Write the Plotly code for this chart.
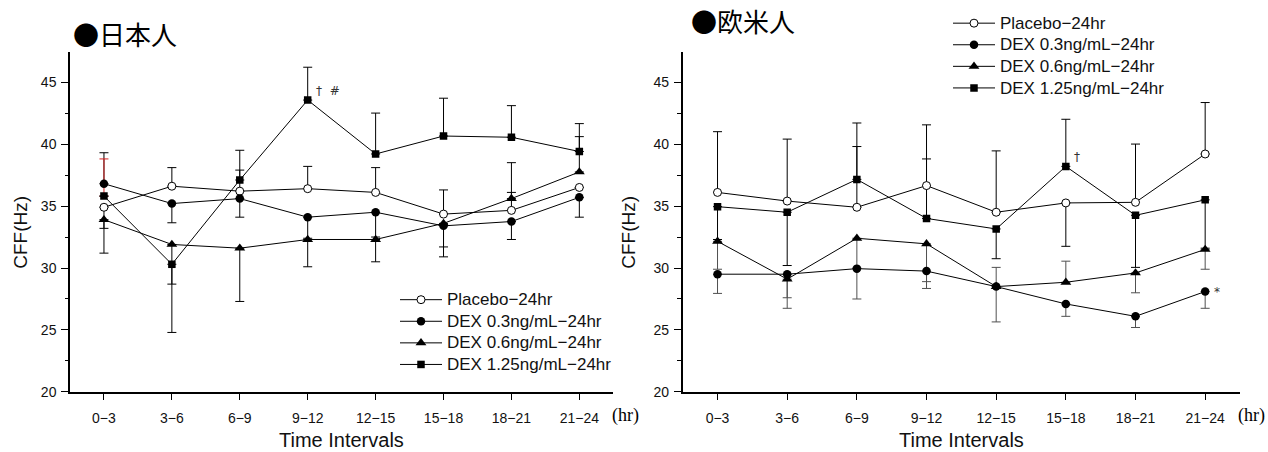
import plotly.graph_objects as go

# Time intervals (hours after dosing)
cats = ["0−3", "3−6", "6−9", "9−12", "12−15", "15−18", "18−21", "21−24"]

series_names = ["Placebo−24hr", "DEX 0.3ng/mL−24hr", "DEX 0.6ng/mL−24hr", "DEX 1.25ng/mL−24hr"]

# --- Japanese subjects: mean CFF (Hz) and one-sided SD bars
jp_placebo = [34.9, 36.6, 36.2, 36.4, 36.1, 34.35, 34.65, 36.5]
jp_placebo_up = [0, 1.5, 1.7, 1.8, 2.0, 1.95, 1.45, 0]
jp_placebo_dn = [1.7, 0, 0, 0, 0, 0, 0, 0]

jp_dex03 = [36.8, 35.2, 35.6, 34.1, 34.5, 33.4, 33.75, 35.7]
jp_dex03_up = [2.5, 0, 0, 0, 0, 0, 0, 0]
jp_dex03_dn = [0, 1.55, 1.5, 1.7, 2.0, 1.7, 1.45, 1.6]

jp_dex06 = [33.9, 31.9, 31.6, 32.3, 32.3, 33.6, 35.6, 37.75]
jp_dex06_up = [0, 0, 0, 0, 0, 0, 2.9, 2.85]
jp_dex06_dn = [2.7, 3.2, 4.3, 2.2, 1.8, 2.7, 0, 0]

jp_dex125 = [35.8, 30.3, 37.1, 43.55, 39.2, 40.65, 40.55, 39.4]
jp_dex125_up = [3.0, 0, 2.4, 2.65, 3.3, 3.05, 2.55, 2.25]
jp_dex125_dn = [0, 5.5, 0, 0, 0, 0, 0, 0]

# --- Western subjects
eu_placebo = [36.1, 35.4, 34.9, 36.65, 34.5, 35.25, 35.3, 39.2]
eu_placebo_up = [4.9, 5.0, 4.9, 4.9, 4.95, 0, 4.7, 4.15]
eu_placebo_dn = [0, 0, 0, 0, 0, 3.5, 0, 0]

eu_dex03 = [29.5, 29.5, 29.95, 29.75, 28.5, 27.1, 26.1, 28.1]
eu_dex03_up = [0, 0, 0, 0, 0, 0, 0, 0]
eu_dex03_dn = [1.55, 1.9, 2.45, 1.4, 2.85, 1.0, 0.9, 1.35]

eu_dex06 = [32.15, 29.1, 32.4, 31.95, 28.5, 28.85, 29.6, 31.5]
eu_dex06_up = [0, 0, 0, 0, 1.55, 1.7, 0, 0]
eu_dex06_dn = [2.25, 2.35, 2.4, 3.05, 0, 0, 1.6, 1.6]

eu_dex125 = [34.95, 34.5, 37.15, 34.0, 33.15, 38.2, 34.25, 35.5]
eu_dex125_up = [0, 0, 4.55, 4.8, 0, 3.8, 0, 0]
eu_dex125_dn = [2.65, 4.3, 0, 0, 2.4, 0, 4.2, 3.9]

W, H = 1268, 452
FONT = "Liberation Sans"

markers = [
    dict(symbol="circle", size=8, color="white", line=dict(color="black", width=1)),
    dict(symbol="circle", size=8.5, color="black", line=dict(color="black", width=0)),
    dict(symbol="triangle-up", size=9.5, color="black", line=dict(color="black", width=0)),
    dict(symbol="square", size=7.5, color="black", line=dict(color="black", width=0)),
]

fig = go.Figure()


def err_trace(xa, ya, xs, ys, up, dn, color):
    return go.Scatter(
        x=xs, y=ys, xaxis=xa, yaxis=ya, mode="markers",
        marker=dict(size=1, opacity=0), showlegend=False, hoverinfo="skip",
        error_y=dict(type="data", symmetric=False, array=up, arrayminus=dn,
                     color=color, thickness=1, width=4.5),
    )


def add_panel(xa, ya, data, legend, err_colors, accent=None):
    # error bars first so every marker sits on top of them
    for k, (vals, up, dn) in enumerate(data):
        up_main = list(up)
        if accent is not None and accent[0] == k:
            i = accent[1]
            up_main[i] = 0
            fig.add_trace(err_trace(xa, ya, [cats[i]], [vals[i]], [up[i]], [0], accent[2]))
        fig.add_trace(err_trace(xa, ya, cats, vals, up_main, dn, err_colors[k]))
    for k, (vals, up, dn) in enumerate(data):
        fig.add_trace(go.Scatter(
            x=cats, y=vals, xaxis=xa, yaxis=ya, mode="lines+markers",
            name=f'<span style="font-size:17px">{series_names[k]}</span>',
            legend=legend,
            line=dict(color="black", width=1), marker=markers[k],
        ))


jp_data = [
    (jp_placebo, jp_placebo_up, jp_placebo_dn),
    (jp_dex03, jp_dex03_up, jp_dex03_dn),
    (jp_dex06, jp_dex06_up, jp_dex06_dn),
    (jp_dex125, jp_dex125_up, jp_dex125_dn),
]
eu_data = [
    (eu_placebo, eu_placebo_up, eu_placebo_dn),
    (eu_dex03, eu_dex03_up, eu_dex03_dn),
    (eu_dex06, eu_dex06_up, eu_dex06_dn),
    (eu_dex125, eu_dex125_up, eu_dex125_dn),
]

add_panel("x", "y", jp_data, "legend", ["black"] * 4, accent=(3, 0, "#d42020"))
add_panel("x2", "y2", eu_data, "legend2", ["black", "#505050", "#505050", "black"])

px_x = lambda p: p / W
px_y = lambda p: (H - p) / H

xaxis_common = dict(
    type="category", categoryorder="array", categoryarray=cats,
    range=[-0.5, 7.5], showline=True, linecolor="black", linewidth=1.5,
    ticks="outside", ticklen=6, tickwidth=1, tickcolor="black",
    tickfont=dict(family=FONT, size=14, color="#111"), ticklabelstandoff=7,
    showgrid=False, zeroline=False, fixedrange=True,
)
yaxis_common = dict(
    range=[20, 47.4], tickvals=[20, 25, 30, 35, 40, 45],
    showline=True, linecolor="black", linewidth=1.5,
    ticks="outside", ticklen=7, tickwidth=1, tickcolor="black",
    tickfont=dict(family=FONT, size=14, color="#111"), ticklabelstandoff=2,
    minor=dict(tickvals=[22.5, 27.5, 32.5, 37.5, 42.5, 47.5], ticks="outside",
               ticklen=3.5, tickwidth=1, tickcolor="black", showgrid=False),
    showgrid=False, zeroline=False, fixedrange=True,
)

ydom = [px_y(399), px_y(53.3)]

legend_common = dict(
    xanchor="left", yanchor="top", bgcolor="rgba(0,0,0,0)",
    font=dict(family=FONT, size=14.3, color="#111"), itemwidth=42,
    tracegroupgap=0, itemclick=False,
)

fig.update_layout(
    width=W, height=H, margin=dict(l=0, r=0, t=0, b=0),
    paper_bgcolor="white", plot_bgcolor="white",
    xaxis=dict(**xaxis_common, domain=[px_x(70), px_x(613.3)], anchor="y"),
    yaxis=dict(**yaxis_common, domain=ydom, anchor="x"),
    xaxis2=dict(**xaxis_common, domain=[px_x(682.7), px_x(1240)], anchor="y2"),
    yaxis2=dict(**yaxis_common, domain=ydom, anchor="x2"),
    legend=dict(**legend_common, x=px_x(395), y=px_y(289)),
    legend2=dict(**legend_common, x=px_x(948), y=px_y(7.5)),
)

annotations = [
    # panel titles
    dict(text="●日本人", x=px_x(71), y=px_y(34), xanchor="left", yanchor="middle",
         font=dict(family="Noto Sans CJK JP", size=26, color="black")),
    dict(text="●欧米人", x=px_x(689), y=px_y(21), xanchor="left", yanchor="middle",
         font=dict(family="Noto Sans CJK JP", size=26, color="black")),
    # axis titles
    dict(text="CFF(Hz)", x=px_x(21), y=px_y(237), textangle=-90,
         xanchor="center", yanchor="middle", font=dict(family=FONT, size=19, color="#111")),
    dict(text="CFF(Hz)", x=px_x(629), y=px_y(237), textangle=-90,
         xanchor="center", yanchor="middle", font=dict(family=FONT, size=19, color="#111")),
    dict(text="Time Intervals", x=px_x(341.5), y=px_y(448), xanchor="center", yanchor="middle",
         font=dict(family=FONT, size=20, color="#111")),
    dict(text="Time Intervals", x=px_x(961.3), y=px_y(448), xanchor="center", yanchor="middle",
         font=dict(family=FONT, size=20, color="#111")),
    dict(text="(hr)", x=px_x(610), y=px_y(423), xanchor="left", yanchor="middle",
         font=dict(family="Liberation Serif", size=18, color="black")),
    dict(text="(hr)", x=px_x(1236), y=px_y(423), xanchor="left", yanchor="middle",
         font=dict(family="Liberation Serif", size=18, color="black")),
]
for a in annotations:
    a.update(xref="paper", yref="paper", showarrow=False)

# significance marks next to the points they refer to
sig = [
    dict(text="†  #", x=cats[3], y=jp_dex125[3] + 0.75, xref="x", yref="y", xshift=20),
    dict(text="†", x=cats[5], y=eu_dex125[5] + 0.75, xref="x2", yref="y2", xshift=11),
    dict(text="*", x=cats[7], y=eu_dex03[7], xref="x2", yref="y2", xshift=12),
]
for s in sig:
    s.update(showarrow=False, xanchor="center", yanchor="middle",
             font=dict(family="DejaVu Sans", size=12, color="#333"))

fig.update_layout(annotations=annotations + sig)

fig.write_html("out.html")
